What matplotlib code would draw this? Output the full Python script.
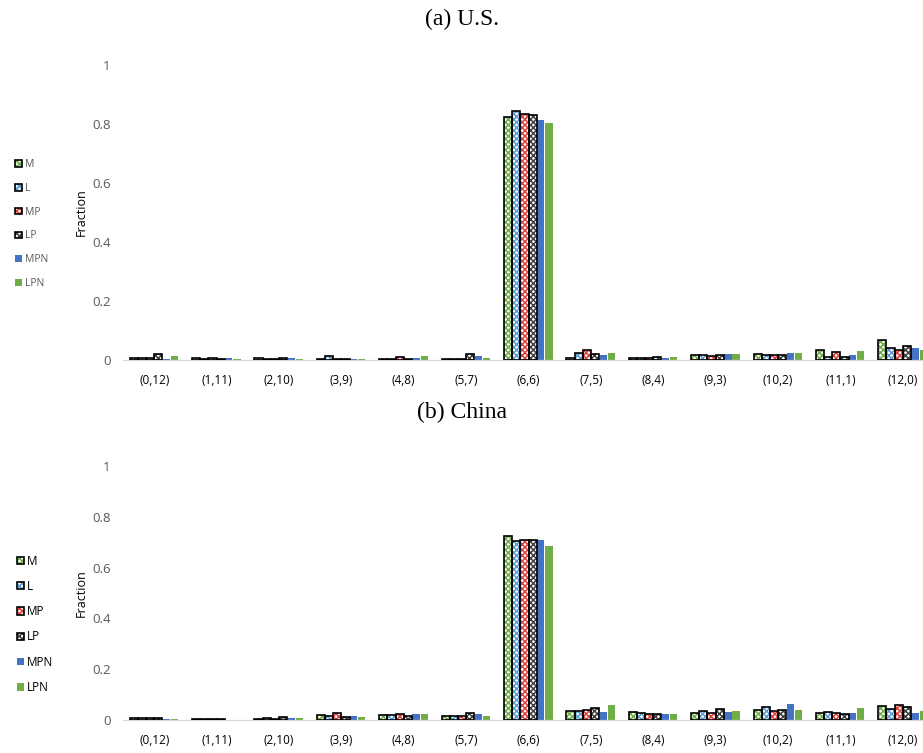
import matplotlib
matplotlib.use("Agg")
import matplotlib.pyplot as plt
import numpy as np
from matplotlib.legend_handler import HandlerTuple

categories = ["(0,12)", "(1,11)", "(2,10)", "(3,9)", "(4,8)", "(5,7)", "(6,6)",
              "(7,5)", "(8,4)", "(9,3)", "(10,2)", "(11,1)", "(12,0)"]
series_names = ["M", "L", "MP", "LP", "MPN", "LPN"]

# (a) U.S.
us_M   = [0.007, 0.006, 0.006, 0.004, 0.003, 0.005, 0.824, 0.008, 0.007, 0.017, 0.019, 0.034, 0.067]
us_L   = [0.008, 0.004, 0.005, 0.014, 0.005, 0.005, 0.844, 0.024, 0.007, 0.017, 0.016, 0.011, 0.042]
us_MP  = [0.008, 0.008, 0.005, 0.004, 0.009, 0.005, 0.833, 0.033, 0.007, 0.013, 0.016, 0.028, 0.035]
us_LP  = [0.019, 0.004, 0.006, 0.004, 0.005, 0.021, 0.829, 0.022, 0.009, 0.016, 0.017, 0.011, 0.046]
us_MPN = [0.005, 0.008, 0.007, 0.003, 0.008, 0.012, 0.814, 0.017, 0.006, 0.021, 0.024, 0.016, 0.042]
us_LPN = [0.014, 0.004, 0.005, 0.003, 0.013, 0.006, 0.802, 0.024, 0.011, 0.019, 0.025, 0.030, 0.035]

# (b) China
cn_M   = [0.007, 0.003, 0.002, 0.021, 0.019, 0.017, 0.726, 0.036, 0.030, 0.026, 0.039, 0.026, 0.054]
cn_L   = [0.007, 0.005, 0.006, 0.016, 0.019, 0.014, 0.705, 0.036, 0.026, 0.035, 0.050, 0.033, 0.042]
cn_MP  = [0.009, 0.005, 0.002, 0.026, 0.024, 0.017, 0.710, 0.041, 0.024, 0.028, 0.034, 0.026, 0.059]
cn_LP  = [0.007, 0.003, 0.012, 0.011, 0.017, 0.028, 0.707, 0.048, 0.024, 0.043, 0.041, 0.022, 0.050]
cn_MPN = [0.004, 0.000, 0.008, 0.015, 0.022, 0.022, 0.709, 0.032, 0.024, 0.031, 0.062, 0.029, 0.029]
cn_LPN = [0.004, 0.000, 0.008, 0.010, 0.022, 0.015, 0.686, 0.061, 0.024, 0.034, 0.039, 0.046, 0.035]

yticks = [0, 0.2, 0.4, 0.6, 0.8, 1]
ytick_labels = ["0", "0.2", "0.4", "0.6", "0.8", "1"]

styles = [
    dict(hatch="xxxxxx", color="#70AD47"),
    dict(hatch="xxxxxx", color="#5B9BD5"),
    dict(hatch="xxxxxx", color="#E03C3C"),
    dict(hatch="xxxxxx", color="#404040"),
    dict(hatch=None, color="#4472C4"),
    dict(hatch=None, color="#70AD47"),
]

plt.rcParams["hatch.linewidth"] = 1.1
W, H = 923, 753
fig = plt.figure(figsize=(W / 100, H / 100), dpi=100)

def px_axes(left, right, top, bottom):
    return fig.add_axes([left / W, 1 - bottom / H, (right - left) / W, (bottom - top) / H])

def draw_panel(ax, data, legend_top, legend_fs, legend_color, spacing):
    x = np.arange(len(categories))
    bw = 0.131
    handles = []
    for i, (vals, st) in enumerate(zip(data, styles)):
        pos = x + (i - 2.5) * bw
        if st["hatch"]:
            b1 = ax.bar(pos, vals, bw, facecolor="white", edgecolor=st["color"],
                        hatch=st["hatch"], linewidth=0, zorder=2)
            b2 = ax.bar(pos, vals, bw, facecolor="none", edgecolor="black",
                        linewidth=1.2, zorder=3)
            handles.append((b1, b2))
        else:
            b1 = ax.bar(pos, vals, bw * 0.88, facecolor=st["color"], edgecolor="none",
                        zorder=2)
            handles.append(b1)
    ax.set_xlim(-0.5, len(categories) - 0.5)
    ax.set_ylim(0, 1)
    ax.set_yticks(yticks)
    ax.set_yticklabels(ytick_labels)
    ax.set_xticks(x)
    ax.set_xticklabels(categories)
    for s in ["top", "right", "left"]:
        ax.spines[s].set_visible(False)
    ax.spines["bottom"].set_color("#D9D9D9")
    ax.spines["bottom"].set_linewidth(0.9)
    ax.tick_params(axis="both", length=0, labelcolor="#595959")
    ax.tick_params(axis="x", pad=10, labelcolor="#000000", labelsize=8.5)
    ax.tick_params(axis="y", pad=9, labelsize=9.5)
    for lab in ax.get_xticklabels() + ax.get_yticklabels():
        lab.set_fontfamily("Open Sans")
    ax.set_ylabel("Fraction", fontsize=9, fontfamily="Open Sans", labelpad=3)
    leg = fig.legend(handles, series_names, loc="upper left",
                     bbox_to_anchor=(6 / W, 1 - legend_top / H),
                     frameon=False, handlelength=0.6, handleheight=0.6,
                     handletextpad=0.3, labelspacing=spacing,
                     prop=dict(family="Open Sans", size=legend_fs),
                     handler_map={tuple: HandlerTuple(ndivide=1, pad=0)})
    for t in leg.get_texts():
        t.set_color(legend_color)

ax1 = px_axes(123, 934, 65, 360)
draw_panel(ax1, [us_M, us_L, us_MP, us_LP, us_MPN, us_LPN], 150, 7.5, "#595959", 1.22)
ax2 = px_axes(123, 934, 466, 720)
draw_panel(ax2, [cn_M, cn_L, cn_MP, cn_LP, cn_MPN, cn_LPN], 544, 8.5, "#000000", 1.04)

fig.text(462 / W, 1 - 19 / H, "(a) U.S.", ha="center", va="center",
         fontsize=17, fontfamily="Liberation Serif")
fig.text(462 / W, 1 - 412 / H, "(b) China", ha="center", va="center",
         fontsize=17, fontfamily="Liberation Serif")

fig.savefig("out.png", dpi=100)
